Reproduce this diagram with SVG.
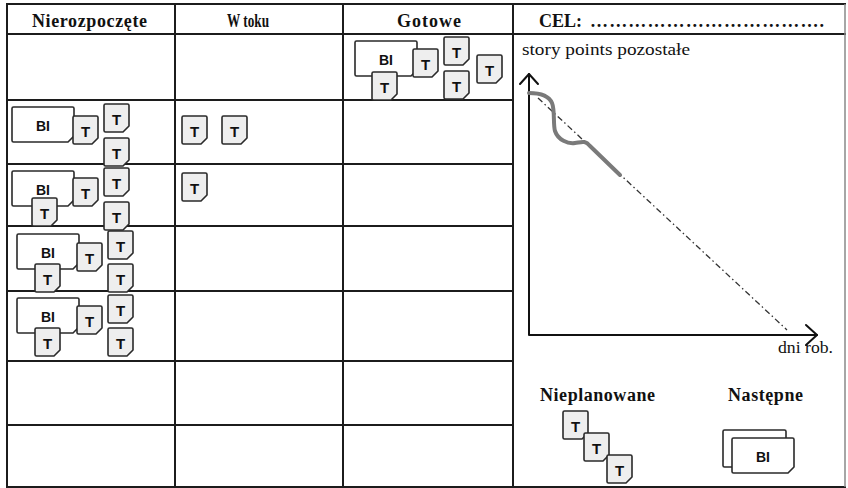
<svg xmlns="http://www.w3.org/2000/svg" width="848" height="488" viewBox="0 0 848 488">
<style>
.grid{stroke:#1c1c1c;stroke-width:2;fill:none}
.hdr{font-family:"Liberation Serif","Times New Roman",serif;font-weight:bold;font-size:18px;fill:#111}
.lbl{font-family:"Liberation Serif","Times New Roman",serif;font-size:16px;fill:#111}
.tc{fill:#eeeeee;stroke:#2a2a2a;stroke-width:1.6;stroke-linejoin:round}
.bc{fill:#ffffff;stroke:#2a2a2a;stroke-width:1.6;stroke-linejoin:round}
.tt{font-family:"Liberation Sans",Arial,sans-serif;font-weight:bold;font-size:15px;fill:#111;text-anchor:middle}
.bt{font-family:"Liberation Sans",Arial,sans-serif;font-weight:bold;font-size:14px;fill:#111;text-anchor:middle}
.axis{stroke:#111;stroke-width:2;fill:none;stroke-linecap:round;stroke-linejoin:round}
</style>
<defs>
<path id="tp" d="M1.5,0 H23.5 Q25,0 25,1.5 V22 L19,28 H1.5 Q0,28 0,26.5 V1.5 Q0,0 1.5,0 Z"/>
<path id="bp" d="M1.5,0 H60.5 Q62,0 62,1.5 V29 L56,35 H1.5 Q0,35 0,33.5 V1.5 Q0,0 1.5,0 Z"/>
</defs>
<rect width="848" height="488" fill="#fff"/>

<g id="grid">
<line class="grid" x1="6" y1="4" x2="846" y2="4"/>
<line class="grid" x1="6" y1="34" x2="846" y2="34"/>
<line class="grid" x1="6" y1="100" x2="513" y2="100"/>
<line class="grid" x1="6" y1="164" x2="513" y2="164"/>
<line class="grid" x1="6" y1="226" x2="513" y2="226"/>
<line class="grid" x1="6" y1="291" x2="513" y2="291"/>
<line class="grid" x1="6" y1="361" x2="513" y2="361"/>
<line class="grid" x1="6" y1="425" x2="513" y2="425"/>
<line class="grid" x1="6" y1="487" x2="846" y2="487"/>
<line class="grid" x1="7" y1="4" x2="7" y2="487"/>
<line class="grid" x1="175" y1="4" x2="175" y2="487"/>
<line class="grid" x1="343" y1="4" x2="343" y2="487"/>
<line class="grid" x1="513" y1="4" x2="513" y2="487"/>
<line x1="845" y1="4" x2="845" y2="487" stroke="#888" stroke-width="1.5"/>
</g>

<g id="headers">
<text class="hdr" x="32" y="27" textLength="115" lengthAdjust="spacing">Nierozpoczęte</text>
<text class="hdr" x="227" y="27" textLength="42" lengthAdjust="spacingAndGlyphs">W toku</text>
<text class="hdr" x="397" y="27" textLength="64" lengthAdjust="spacing">Gotowe</text>
<text class="hdr" x="539" y="27" font-size="17">CEL:</text>
<text class="hdr" x="590" y="27" font-size="15" textLength="234" lengthAdjust="spacing">… … … … … … … … … … … … .</text>
</g>

<g id="done-cell">
<use href="#bp" class="bc" x="355" y="41"/><text class="bt" x="386" y="65">BI</text>
<use href="#tp" class="tc" x="413" y="49"/><text class="tt" x="425.5" y="70">T</text>
<use href="#tp" class="tc" x="372" y="72"/><text class="tt" x="384.5" y="93">T</text>
<use href="#tp" class="tc" x="444" y="37"/><text class="tt" x="456.5" y="58">T</text>
<use href="#tp" class="tc" x="444" y="71"/><text class="tt" x="456.5" y="92">T</text>
<use href="#tp" class="tc" x="477" y="55"/><text class="tt" x="489.5" y="76">T</text>
</g>

<g id="row1-todo">
<use href="#bp" class="bc" x="12" y="107"/><text class="bt" x="43" y="131">BI</text>
<use href="#tp" class="tc" x="73" y="116"/><text class="tt" x="85.5" y="137">T</text>
<use href="#tp" class="tc" x="104" y="104"/><text class="tt" x="116.5" y="125">T</text>
<use href="#tp" class="tc" x="104" y="138"/><text class="tt" x="116.5" y="159">T</text>
</g>
<g id="row1-doing">
<use href="#tp" class="tc" x="182" y="116"/><text class="tt" x="194.5" y="137">T</text>
<use href="#tp" class="tc" x="222" y="116"/><text class="tt" x="234.5" y="137">T</text>
</g>

<g id="row2-todo">
<use href="#bp" class="bc" x="12" y="171"/><text class="bt" x="43" y="195">BI</text>
<use href="#tp" class="tc" x="73" y="178"/><text class="tt" x="85.5" y="199">T</text>
<use href="#tp" class="tc" x="32" y="198"/><text class="tt" x="44.5" y="219">T</text>
<use href="#tp" class="tc" x="104" y="168"/><text class="tt" x="116.5" y="189">T</text>
<use href="#tp" class="tc" x="104" y="202"/><text class="tt" x="116.5" y="223">T</text>
</g>
<g id="row2-doing">
<use href="#tp" class="tc" x="182" y="173"/><text class="tt" x="194.5" y="194">T</text>
</g>

<g id="row3-todo">
<use href="#bp" class="bc" x="17" y="234"/><text class="bt" x="48" y="258">BI</text>
<use href="#tp" class="tc" x="77" y="243"/><text class="tt" x="89.5" y="264">T</text>
<use href="#tp" class="tc" x="35" y="264"/><text class="tt" x="47.5" y="285">T</text>
<use href="#tp" class="tc" x="108" y="231"/><text class="tt" x="120.5" y="252">T</text>
<use href="#tp" class="tc" x="108" y="264"/><text class="tt" x="120.5" y="285">T</text>
</g>

<g id="row4-todo">
<use href="#bp" class="bc" x="17" y="298"/><text class="bt" x="48" y="322">BI</text>
<use href="#tp" class="tc" x="77" y="306"/><text class="tt" x="89.5" y="327">T</text>
<use href="#tp" class="tc" x="35" y="328"/><text class="tt" x="47.5" y="349">T</text>
<use href="#tp" class="tc" x="108" y="295"/><text class="tt" x="120.5" y="316">T</text>
<use href="#tp" class="tc" x="108" y="328"/><text class="tt" x="120.5" y="349">T</text>
</g>

<g id="burndown">
<text class="lbl" x="522" y="55" textLength="168" lengthAdjust="spacingAndGlyphs">story points pozostałe</text>
<path class="axis" d="M529,74 V335 H817"/>
<path class="axis" d="M520,84 L529,74 L538,84"/>
<path class="axis" d="M806,325 L817,335 L806,345"/>
<line x1="538" y1="98" x2="787" y2="330" stroke="#333" stroke-width="1.3" stroke-dasharray="6 3 1.5 3"/>
<path d="M529,93 C540,93 549,96 552,103 C555,110 553,125 555,131 C558,140 568,144 575,143 C582,142 585,140 590,146 L620,175" fill="none" stroke="#7a7a7a" stroke-width="4" stroke-linecap="round" stroke-linejoin="round"/>
<text class="lbl" x="778" y="353" textLength="55" lengthAdjust="spacingAndGlyphs">dni rob.</text>
</g>

<g id="unplanned">
<text class="hdr" x="540" y="401" textLength="115" lengthAdjust="spacing">Nieplanowane</text>
<use href="#tp" class="tc" x="563" y="411"/><text class="tt" x="575.5" y="432">T</text>
<use href="#tp" class="tc" x="584" y="433"/><text class="tt" x="596.5" y="454">T</text>
<use href="#tp" class="tc" x="607" y="455"/><text class="tt" x="619.5" y="476">T</text>
</g>

<g id="next">
<text class="hdr" x="728" y="401" textLength="75" lengthAdjust="spacing">Następne</text>
<rect x="723" y="430" width="63" height="37" rx="1.5" class="bc"/>
<use href="#bp" class="bc" x="732" y="438"/><text class="bt" x="763" y="462">BI</text>
</g>
</svg>
